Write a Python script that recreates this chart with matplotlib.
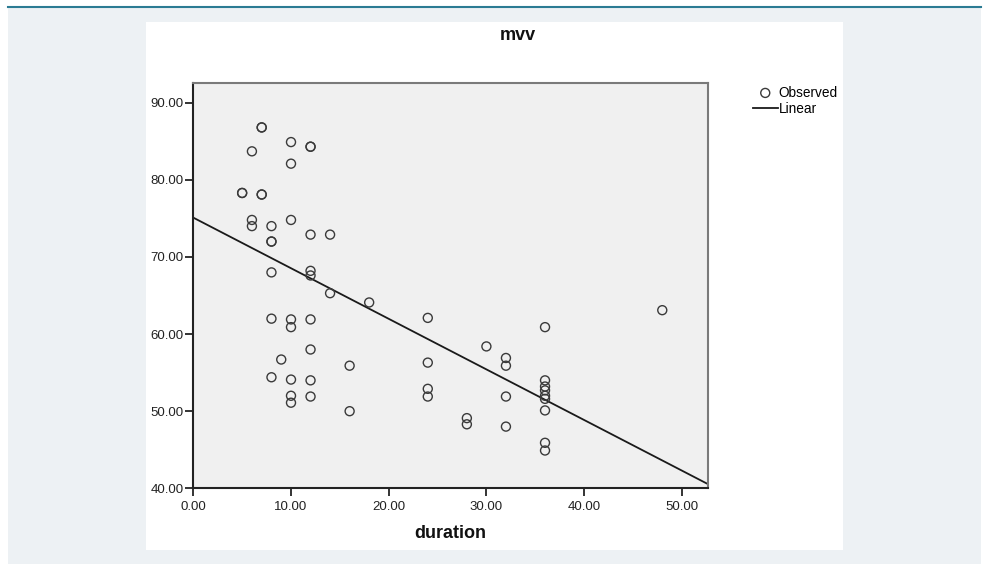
import numpy as np
import matplotlib
matplotlib.use("Agg")
import matplotlib.pyplot as plt
from matplotlib.patches import Rectangle
from matplotlib.lines import Line2D
from matplotlib.ticker import FormatStrFormatter

plt.rcParams['font.family'] = ['Liberation Sans', 'DejaVu Sans']

# observed points
duration = [5, 5, 6, 6, 6, 7, 7, 7, 7, 8, 8, 8, 8, 8, 8, 9,
            10, 10, 10, 10, 10, 10, 10, 10,
            12, 12, 12, 12, 12, 12, 12, 12, 12,
            14, 14, 16, 16, 18, 24, 24, 24, 24, 28, 28, 30,
            32, 32, 32, 32, 36, 36, 36, 36, 36, 36, 36, 36, 36, 48]
mvv = [78.3, 78.3, 83.7, 74.8, 74.0, 86.8, 86.8, 78.1, 78.1,
       74.0, 72.0, 72.0, 68.0, 62.0, 54.4, 56.7,
       84.9, 82.1, 74.8, 61.9, 60.9, 54.1, 52.0, 51.1,
       84.3, 84.3, 72.9, 68.2, 67.6, 61.9, 58.0, 54.0, 51.9,
       72.9, 65.3, 55.9, 50.0, 64.1, 62.1, 56.3, 52.9, 51.9, 49.1, 48.3, 58.4,
       56.9, 55.9, 51.9, 48.0, 60.9, 54.0, 53.2, 52.7, 52.0, 51.6, 50.1, 45.9, 44.9, 63.1]

# linear fit as drawn in the chart
intercept = 75.1
slope = -0.656

x_ticks = [0, 10, 20, 30, 40, 50]
y_ticks = [40, 50, 60, 70, 80, 90]

W, H = 989, 564
fig = plt.figure(figsize=(W / 100, H / 100), dpi=100)
fig.patch.set_facecolor('white')

# page background, white chart panel, top rule
fig.patches.append(Rectangle((8 / W, 0), (981 - 8) / W, (H - 7) / H,
                             transform=fig.transFigure, facecolor='#edf1f4',
                             edgecolor='none', zorder=-5))
fig.patches.append(Rectangle((146 / W, 1 - 550 / H), (843 - 146) / W, (550 - 22) / H,
                             transform=fig.transFigure, facecolor='white',
                             edgecolor='none', zorder=-4))
fig.lines.append(Line2D([8 / W, 981 / W], [1 - 7 / H, 1 - 7 / H],
                        transform=fig.transFigure, color='#2b7b93', lw=1.5, zorder=-3))

left, right, top, bottom = 193.3, 707.7, 82.7, 488.3
ax = fig.add_axes([left / W, 1 - bottom / H, (right - left) / W, (bottom - top) / H])
ax.set_facecolor('#f0f0f0')

ax.scatter(duration, mvv, s=42, facecolors='none', edgecolors='#3a3a3a',
           linewidths=1.0, zorder=3, label='Observed')
xs = np.array([0, 52.65])
ax.plot(xs, intercept + slope * xs, color='#1a1a1a', lw=1.3, zorder=2, label='Linear')

ax.set_xlim(0, 52.65)
ax.set_ylim(40, 92.6)
ax.set_xticks(x_ticks)
ax.set_yticks(y_ticks)
ax.xaxis.set_major_formatter(FormatStrFormatter('%.2f'))
ax.yaxis.set_major_formatter(FormatStrFormatter('%.2f'))
ax.tick_params(axis='both', direction='out', length=6, width=1.4, color='#333333',
               labelsize=9.5, labelcolor='#222222')
ax.tick_params(axis='y', pad=1)
ax.tick_params(axis='x', pad=3)

for side in ['left', 'bottom']:
    ax.spines[side].set_color('#222222')
    ax.spines[side].set_linewidth(1.5)
for side in ['top', 'right']:
    ax.spines[side].set_color('#7a7a7a')
    ax.spines[side].set_linewidth(1.5)

fig.text(518 / W, 1 - 35 / H, 'mvv', ha='center', va='center',
         fontsize=13, fontweight='bold', color='#111111')
fig.text(450 / W, 1 - 533 / H, 'duration', ha='center', va='center',
         fontsize=13, fontweight='bold', color='#111111')

ax.legend(loc='upper left', bbox_to_anchor=(753 / W, 1 - 85.5 / H),
          bbox_transform=fig.transFigure, frameon=False, fontsize=9.8,
          handlelength=1.8, handletextpad=0.1, labelspacing=0.15,
          borderpad=0, borderaxespad=0)

fig.savefig('out.png', dpi=100)
